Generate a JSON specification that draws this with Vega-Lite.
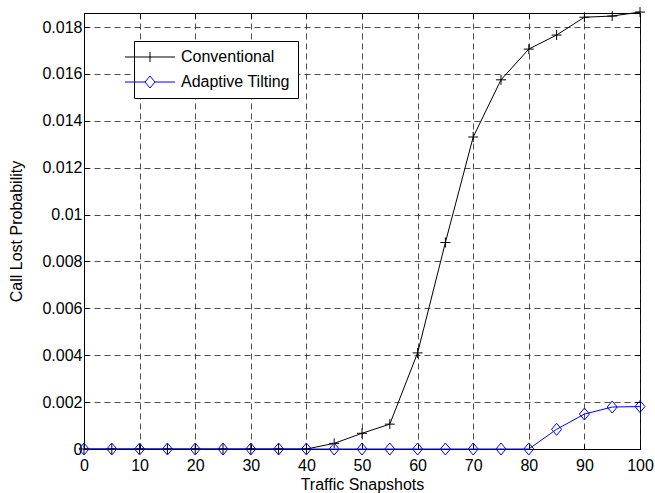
{
  "$schema": "https://vega.github.io/schema/vega-lite/v6.json",
  "width": 556,
  "height": 436,
  "autosize": {"type": "none"},
  "padding": {"left": 84, "top": 13, "right": 15, "bottom": 44},
  "background": "white",
  "data": {
    "values": [
      {"x": 0, "series": "Conventional", "y": 0},
      {"x": 5, "series": "Conventional", "y": 0},
      {"x": 10, "series": "Conventional", "y": 0},
      {"x": 15, "series": "Conventional", "y": 0},
      {"x": 20, "series": "Conventional", "y": 0},
      {"x": 25, "series": "Conventional", "y": 0},
      {"x": 30, "series": "Conventional", "y": 0},
      {"x": 35, "series": "Conventional", "y": 0},
      {"x": 40, "series": "Conventional", "y": 0},
      {"x": 45, "series": "Conventional", "y": 0.00024},
      {"x": 50, "series": "Conventional", "y": 0.00067},
      {"x": 55, "series": "Conventional", "y": 0.00106},
      {"x": 60, "series": "Conventional", "y": 0.0041},
      {"x": 65, "series": "Conventional", "y": 0.00881},
      {"x": 70, "series": "Conventional", "y": 0.01331},
      {"x": 75, "series": "Conventional", "y": 0.01575},
      {"x": 80, "series": "Conventional", "y": 0.01706},
      {"x": 85, "series": "Conventional", "y": 0.01766},
      {"x": 90, "series": "Conventional", "y": 0.01842},
      {"x": 95, "series": "Conventional", "y": 0.01847},
      {"x": 100, "series": "Conventional", "y": 0.01864},
      {"x": 0, "series": "Adaptive Tilting", "y": 0},
      {"x": 5, "series": "Adaptive Tilting", "y": 0},
      {"x": 10, "series": "Adaptive Tilting", "y": 0},
      {"x": 15, "series": "Adaptive Tilting", "y": 0},
      {"x": 20, "series": "Adaptive Tilting", "y": 0},
      {"x": 25, "series": "Adaptive Tilting", "y": 0},
      {"x": 30, "series": "Adaptive Tilting", "y": 0},
      {"x": 35, "series": "Adaptive Tilting", "y": 0},
      {"x": 40, "series": "Adaptive Tilting", "y": 0},
      {"x": 45, "series": "Adaptive Tilting", "y": 0},
      {"x": 50, "series": "Adaptive Tilting", "y": 0},
      {"x": 55, "series": "Adaptive Tilting", "y": 0},
      {"x": 60, "series": "Adaptive Tilting", "y": 0},
      {"x": 65, "series": "Adaptive Tilting", "y": 0},
      {"x": 70, "series": "Adaptive Tilting", "y": 0},
      {"x": 75, "series": "Adaptive Tilting", "y": 0},
      {"x": 80, "series": "Adaptive Tilting", "y": 0},
      {"x": 85, "series": "Adaptive Tilting", "y": 0.00084},
      {"x": 90, "series": "Adaptive Tilting", "y": 0.00149},
      {"x": 95, "series": "Adaptive Tilting", "y": 0.00179},
      {"x": 100, "series": "Adaptive Tilting", "y": 0.00181}
    ]
  },
  "encoding": {
    "x": {
      "field": "x", "type": "quantitative",
      "scale": {"domain": [0, 100], "nice": false, "zero": false},
      "axis": null
    },
    "y": {
      "field": "y", "type": "quantitative",
      "scale": {"domain": [0, 0.0186], "nice": false},
      "axis": null
    }
  },
  "layer": [
    {
      "mark": {"type": "line", "strokeWidth": 1, "clip": false},
      "encoding": {
        "x": {
          "field": "x", "type": "quantitative",
          "scale": {"domain": [0, 100], "nice": false, "zero": false},
          "axis": {
            "title": "Traffic Snapshots",
            "values": [0, 10, 20, 30, 40, 50, 60, 70, 80, 90, 100],
            "grid": true,
            "tickSize": -5,
            "labelFlush": false,
            "labelPadding": 13,
            "titlePadding": 3
          }
        },
        "y": {
          "field": "y", "type": "quantitative",
          "scale": {"domain": [0, 0.0186], "nice": false},
          "axis": {
            "title": "Call Lost Probability",
            "values": [0, 0.002, 0.004, 0.006, 0.008, 0.01, 0.012, 0.014, 0.016, 0.018],
            "labelExpr": "datum.value == 0 ? '0' : datum.value == 0.01 ? '0.01' : format(datum.value, '.3f')",
            "grid": true,
            "tickSize": -5,
            "labelFlush": false,
            "labelPadding": 7,
            "titlePadding": 17
          }
        },
        "color": {
          "field": "series", "type": "nominal",
          "scale": {"domain": ["Conventional", "Adaptive Tilting"], "range": ["black", "#0000ff"]}
        }
      }
    },
    {
      "transform": [{"filter": "datum.series == 'Conventional'"}],
      "mark": {"type": "point", "shape": "M-1,0H1M0,-1V1", "filled": false, "size": 100, "strokeWidth": 1, "color": "black", "opacity": 1, "clip": false}
    },
    {
      "transform": [{"filter": "datum.series == 'Adaptive Tilting'"}],
      "mark": {"type": "point", "shape": "M0,-1.2L1,0L0,1.2L-1,0Z", "filled": false, "size": 100, "strokeWidth": 1, "color": "#0000ff", "opacity": 1, "clip": false}
    },
    {
      "mark": {"type": "point", "filled": false, "size": 100, "strokeWidth": 1, "opacity": 0},
      "encoding": {
        "color": {
          "field": "series", "type": "nominal",
          "scale": {"domain": ["Conventional", "Adaptive Tilting"], "range": ["black", "#0000ff"]}
        },
        "shape": {
          "field": "series", "type": "nominal",
          "scale": {"domain": ["Conventional", "Adaptive Tilting"], "range": ["M-5,0H5M0,-1V1", "M-5,0H-1M1,0H5M0,-1.2L1,0L0,1.2L-1,0Z"]}
        }
      }
    },
    {
      "mark": {"type": "point", "opacity": 0},
      "encoding": {
        "x": {
          "field": "x", "type": "quantitative",
          "scale": {"domain": [0, 100], "nice": false, "zero": false},
          "axis": {
            "orient": "top", "title": null, "labels": false, "grid": false, "domain": false,
            "values": [0, 10, 20, 30, 40, 50, 60, 70, 80, 90, 100],
            "tickSize": -5
          }
        },
        "y": {
          "field": "y", "type": "quantitative",
          "scale": {"domain": [0, 0.0186], "nice": false},
          "axis": {
            "orient": "right", "title": null, "labels": false, "grid": false, "domain": false,
            "values": [0, 0.002, 0.004, 0.006, 0.008, 0.01, 0.012, 0.014, 0.016, 0.018],
            "tickSize": -5
          }
        }
      }
    }
  ],
  "resolve": {"axis": {"x": "independent", "y": "independent"}},
  "config": {
    "view": {"stroke": "black", "strokeWidth": 1},
    "font": "Liberation Sans",
    "axis": {
      "labelFont": "Liberation Sans",
      "labelFontSize": 16,
      "labelColor": "black",
      "titleFont": "Liberation Sans",
      "titleFontSize": 16,
      "titleFontWeight": "normal",
      "titleColor": "black",
      "domainColor": "black",
      "tickColor": "black",
      "gridColor": "#222222",
      "gridDash": [6, 4],
      "gridWidth": 0.8,
      "gridOpacity": 1
    },
    "legend": {
      "title": null,
      "orient": "none",
      "legendX": 50,
      "legendY": 28,
      "fillColor": "white",
      "strokeColor": "black",
      "padding": 8,
      "symbolSize": 100,
      "symbolStrokeWidth": 1,
      "symbolOpacity": 1,
      "labelFont": "Liberation Sans",
      "labelFontSize": 16,
      "labelColor": "black",
      "labelOffset": 23,
      "rowPadding": 9
    }
  }
}
